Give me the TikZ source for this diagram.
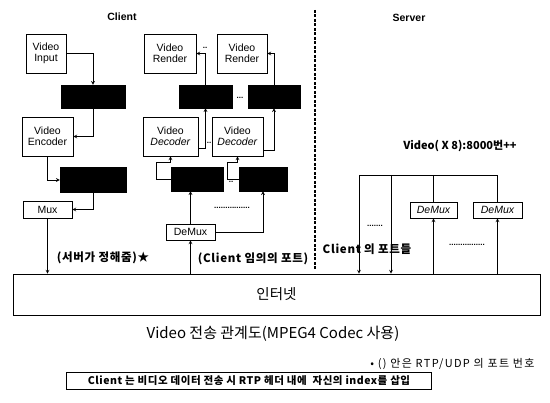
\documentclass[tikz,border=0pt]{standalone}
\usepackage{fontspec}
\setmainfont{Liberation Sans}
\newfontfamily\kr{Noto Sans CJK KR}
\newfontfamily\krw{Noto Sans CJK KR}[LetterSpace=6]
\newfontfamily\krn{Noto Sans CJK KR}[LetterSpace=12]
\newfontfamily\krb{Noto Sans CJK KR}[LetterSpace=5]
\usetikzlibrary{positioning}

\begin{document}
\begin{tikzpicture}[
    x=1pt, y=-1pt,
    font=\fontsize{10.5}{11.5}\selectfont,
    box/.style={rectangle,draw,line width=0.7pt,inner sep=1pt,align=center},
    blk/.style={rectangle,fill=black,draw=black},
    arrow/.style={->,>=stealth,line width=0.7pt},
    link/.style={line width=0.7pt},
    lbl/.style={font=\krw\bfseries\fontsize{11.5}{12}\selectfont,inner sep=0pt},
    dots/.style={font=\bfseries\fontsize{8}{8}\selectfont,inner sep=0pt}
]
\useasboundingbox (0,0) rectangle (550,403);

% headers
\node[font=\bfseries\fontsize{10.5}{12}\selectfont] (client) at (122,17) {Client};
\node[font=\bfseries\fontsize{10.5}{12}\selectfont] (server) at (409,18) {Server};

% client, sending side
\node[box,minimum width=40,minimum height=39] (vin) at (46,53.5) {Video\\Input};
\node[blk,minimum width=64,minimum height=23] (b1) at (93,96.5) {};
\node[box,minimum width=51,minimum height=39] (enc) at (47.5,136.5) {Video\\Encoder};
\node[blk,minimum width=66,minimum height=25] (b2) at (93,180) {};
\node[box,minimum width=49,minimum height=17] (mux) at (47.5,209.5) {Mux};

% client, receiving side
\node[box,minimum width=52,minimum height=39] (ren1) at (170,53.5) {Video\\Render};
\node[box,minimum width=50,minimum height=39] (ren2) at (242,53.5) {Video\\Render};
\node[blk,minimum width=53,minimum height=23] (b3) at (205.5,96.5) {};
\node[blk,minimum width=52,minimum height=23] (b4) at (274,96.5) {};
\node[box,minimum width=55,minimum height=39] (dec1) at (170.5,136.5) {Video\\\textit{Decoder}};
\node[box,minimum width=51,minimum height=39] (dec2) at (237.5,136.5) {Video\\\textit{Decoder}};
\node[blk,minimum width=52,minimum height=24] (b5) at (197,179) {};
\node[blk,minimum width=48,minimum height=24] (b6) at (263,179) {};
\node[box,minimum width=49,minimum height=16] (dmx) at (190.5,232) {DeMux};

% server
\node[box,minimum width=47,minimum height=16,font=\itshape\fontsize{10.5}{11.5}\selectfont] (sdm1) at (433.5,210) {DeMux};
\node[box,minimum width=49,minimum height=16,font=\itshape\fontsize{10.5}{11.5}\selectfont] (sdm2) at (497.5,210) {DeMux};
\node[font=\kr\bfseries\fontsize{11}{12}\selectfont] (ports) at (460,146) {Video( X 8):8000번++};

% internet
\node[box,minimum width=527,minimum height=41,font=\kr\fontsize{14.5}{16}\selectfont] (net) at (276.5,294.5) {인터넷};

\coordinate (dtop) at (315,10);
\coordinate (dbot) at (315,271);
\draw[dashed,line width=1.3pt,dash pattern=on 3pt off 1.5pt] (dtop) -- (dbot);

% sending path
\draw[arrow] (vin.east) -| (b1.north);
\draw[arrow] (b1.south) |- (enc.east);
\draw[arrow] (enc.south) |- (b2.west);
\draw[arrow] (b2.south) |- (mux.east);
\draw[arrow] (mux.south) -- (mux.south |- net.north);

% receiving path
\coordinate (k1) at (156,162);
\coordinate (k2) at (227,162);
\draw[arrow] (dmx.south |- net.north) -- (dmx.south);
\draw[arrow] (dmx.north) -- (dmx.north |- b5.south);
\draw[arrow] (dmx.east) -| (b6.south);
\draw[arrow] (b5.west) -| (k1) -- (k1 -| dec1.south) -- (dec1.south);
\draw[arrow] (b6.west) -| (k2) -- (k2 -| dec2.south) -- (dec2.south);
\draw[arrow] ([yshift=-12pt]dec1.east) -| (b3.south);
\draw[arrow] ([yshift=-14pt]dec2.east) -| (b4.south);
\draw[arrow] (b3.north) |- (ren1.east);
\draw[arrow] (b4.north) |- (ren2.east);

\node[dots] (d1) at (205,48) {..};
\node[dots] (d2) at (240,98) {...};
\node[dots] (d3) at (209,143) {..};
\node[dots] (d4) at (231,182) {..};
\node[dots] (d5) at (232,208) {................};

% server ports
\coordinate (p1) at (359,175);
\coordinate (p2) at (391,175);
\draw[link] (p1) -- (sdm2.north |- p1) -- (sdm2.north);
\draw[link] (sdm1.north |- p1) -- (sdm1.north);
\draw[arrow] (p1) -- (p1 |- net.north);
\draw[arrow] (p2) -- (p2 |- net.north);
\draw[arrow] (sdm1.south |- net.north) -- (sdm1.south);
\draw[arrow] (sdm2.south |- net.north) -- (sdm2.south);
\node[dots] (d6) at (375,226) {.......};
\node[dots] (d7) at (467,245) {................};

% labels
\node[lbl] (srvport) at (103,258) {(서버가 정해줌)★};
\node[lbl] (cliport) at (253,259) {(Client 임의의 포트)};
\node[lbl] (portlist) at (367,249) {Client 의 포트들};

% caption and notes
\node[font=\kr\fontsize{15}{17}\selectfont] (title) at (273,334) {Video 전송 관계도(MPEG4 Codec 사용)};
\node[anchor=east,font=\krn\fontsize{11}{12}\selectfont] (note) at (538,364) {• () 안은 RTP/UDP 의 포트 번호};
\node[box,minimum width=365,minimum height=17,font=\krb\bfseries\fontsize{10.5}{11}\selectfont] (rule) at (249,380.5) {Client 는 비디오 데이터 전송 시 RTP 헤더 내에~~자신의 index를 삽입};
\end{tikzpicture}
\end{document}
